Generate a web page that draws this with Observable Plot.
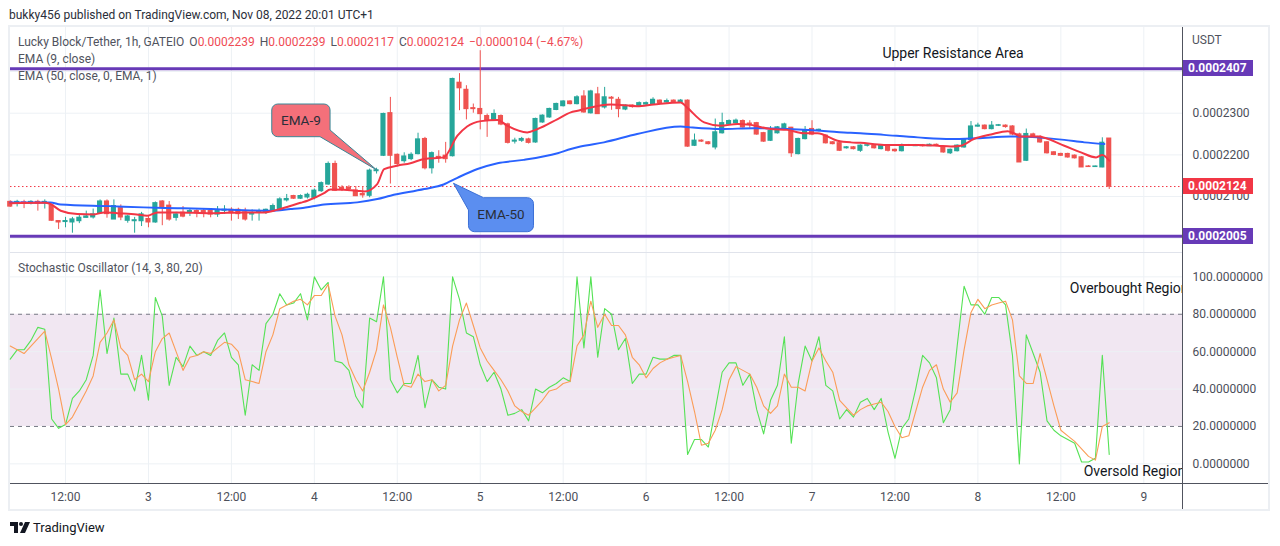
<!DOCTYPE html>
<html><head><meta charset="utf-8">
<script src="https://cdn.jsdelivr.net/npm/d3@7"></script>
<script src="https://cdn.jsdelivr.net/npm/@observablehq/plot@0.6"></script>
<style>
body{margin:0;background:#fff;}
#page{position:relative;width:1280px;height:546px;overflow:hidden;font-family:Roboto,"Noto Sans",sans-serif;}
.abs{position:absolute;white-space:nowrap;line-height:16px;font-size:12px;}
.leg{color:#50535e;}
.red{color:#ef4c55;}
.seg{margin-right:5px;}
.tag{position:absolute;left:1183px;width:70px;height:16px;line-height:16px;color:#fff;font-size:12px;font-weight:bold;padding-left:5px;box-sizing:border-box;font-family:Roboto,sans-serif;}
svg.overlay{position:absolute;pointer-events:none;overflow:visible;}
</style></head><body><div id="page"></div>
<script>
// ---------- data (prices are in units of 1e-7 USDT) ----------
const firstHour = 4;            // hours after 2022-11-02 00:00 of the first visible candle
const opens = [
2087,2084,2086,2084,2087,2084,2078,2041,2039,2038,
2041,2049,2050,2060,2088,2045,2072,2042,2041,2041,
2046,2038,2088,2078,2049,2061,2063,2065,2065,2065,
2057,2066,2068,2068,2062,2057,2061,2061,2066,2070,
2091,2101,2095,2098,2097,2113,2129,2178,2121,2121,
2114,2106,2102,2161,2198,2300,2200,2185,2190,2202,
2238,2168,2195,2198,2197,2373,2356,2312,2310,2293,
2282,2293,2273,2232,2234,2237,2230,2278,2290,2308,
2317,2328,2322,2340,2300,2345,2314,2337,2332,2309,
2318,2316,2321,2322,2330,2326,2330,2326,2330,2222,
2234,2230,2218,2252,2273,2276,2281,2275,2276,2252,
2234,2252,2263,2265,2202,2238,2262,2258,2246,2230,
2228,2216,2218,2210,2222,2221,2214,2222,2212,2209,
2223,2221,2223,2221,2224,2218,2204,2209,2218,2236,
2268,2270,2262,2270,2270,2268,2249,2186,2249,2243,
2230,2206,2202,2202,2198,2194,2172,2171,2170,2239];
const highs = [
2090,2091,2091,2090,2091,2092,2082,2042,2050,2050,
2055,2065,2070,2092,2092,2092,2080,2055,2050,2062,
2054,2087,2090,2088,2062,2076,2070,2068,2070,2070,
2076,2078,2073,2072,2072,2068,2070,2070,2082,2097,
2105,2103,2104,2108,2118,2135,2183,2185,2126,2126,
2124,2124,2166,2168,2300,2338,2202,2205,2205,2252,
2242,2207,2210,2230,2384,2395,2366,2322,2450,2298,
2308,2296,2276,2240,2242,2240,2288,2296,2312,2324,
2330,2330,2342,2354,2355,2362,2362,2340,2338,2320,
2320,2327,2327,2337,2332,2334,2332,2333,2332,2250,
2236,2232,2286,2300,2284,2286,2284,2282,2278,2254,
2268,2268,2276,2266,2240,2268,2282,2262,2248,2232,
2230,2220,2220,2224,2225,2225,2224,2224,2214,2226,
2225,2225,2225,2226,2226,2220,2214,2224,2238,2280,
2276,2272,2280,2273,2272,2270,2252,2262,2252,2246,
2232,2208,2204,2204,2200,2196,2174,2173,2241,2239];
const lows = [
2074,2075,2071,2080,2065,2070,2040,2021,2025,2012,
2035,2048,2046,2057,2048,2045,2042,2036,2012,2028,
2025,2036,2030,2041,2041,2049,2052,2049,2049,2049,
2050,2057,2041,2045,2041,2041,2041,2057,2064,2066,
2087,2093,2093,2094,2092,2110,2127,2112,2112,2112,
2100,2096,2097,2154,2196,2130,2172,2180,2186,2200,
2164,2154,2180,2180,2195,2306,2284,2300,2260,2242,
2280,2270,2226,2226,2230,2226,2228,2276,2288,2306,
2315,2320,2320,2300,2298,2298,2310,2307,2289,2306,
2312,2314,2318,2320,2322,2324,2324,2324,2218,2220,
2230,2224,2212,2250,2271,2274,2264,2262,2247,2230,
2232,2250,2261,2194,2200,2236,2246,2255,2226,2224,
2208,2214,2212,2206,2219,2214,2212,2207,2206,2207,
2220,2220,2219,2220,2220,2204,2201,2207,2216,2234,
2266,2260,2260,2268,2264,2246,2182,2184,2241,2228,
2202,2198,2196,2192,2190,2170,2170,2170,2169,2117];
const closes = [
2076,2087,2083,2087,2083,2087,2042,2038,2041,2045,
2049,2052,2057,2088,2058,2077,2050,2052,2043,2057,
2038,2084,2074,2045,2057,2052,2065,2060,2060,2057,
2065,2068,2061,2058,2045,2060,2063,2068,2077,2093,
2094,2095,2101,2104,2114,2132,2178,2114,2118,2118,
2101,2103,2162,2163,2298,2198,2178,2196,2200,2237,
2168,2204,2192,2190,2382,2360,2310,2310,2298,2282,
2298,2273,2229,2234,2238,2229,2286,2294,2310,2322,
2328,2322,2338,2302,2352,2298,2338,2335,2310,2318,
2315,2324,2324,2332,2324,2329,2326,2330,2220,2234,
2232,2226,2254,2276,2281,2282,2266,2273,2249,2232,
2257,2266,2273,2204,2238,2258,2249,2260,2228,2226,
2210,2218,2214,2222,2223,2216,2222,2210,2209,2220,
2222,2223,2221,2224,2222,2206,2212,2222,2236,2268,
2270,2262,2270,2271,2267,2249,2182,2250,2243,2230,
2204,2200,2198,2194,2192,2170,2171,2172,2229,2124];
// EMA lines: [hour, price]
const ema9Points = [[4,2084],[9,2085],[9.8,2082],[11.3,2066],[13.7,2058],[16.1,2057],[17.6,2062],[19.5,2060],[22.3,2057],[23.8,2054],[25.3,2062],[28.2,2062],[33,2060],[37.8,2062],[40.7,2062],[42.6,2068],[46,2085],[47,2090],[49.4,2108],[50.3,2117],[54.2,2114],[55.2,2112],[57.1,2130],[58.1,2166],[60,2174],[61.9,2180],[63.9,2190],[66.7,2194],[68.7,2246],[70.1,2268],[72.1,2281],[74.5,2284],[75.9,2270],[78.8,2254],[80.3,2262],[83.2,2286],[85.1,2302],[86.1,2306],[87,2310],[90.9,2321],[94.7,2317],[97.1,2321],[101,2326],[101.9,2314],[104.4,2278],[106.8,2270],[109.2,2274],[111.1,2272],[114,2262],[116.4,2260],[118.8,2252],[120.8,2252],[123.7,2234],[125.6,2230],[127,2229],[130.4,2224],[135.3,2224],[138.2,2222],[140.1,2220],[141.5,2222],[143.4,2238],[145.9,2249],[148.3,2257],[149.2,2252],[150.2,2244],[152.6,2244],[156.5,2222],[158.9,2206],[161.1,2194],[162,2200],[163,2186]];
const ema50Points = [[4,2086],[9.8,2086],[11.3,2081],[18.5,2077],[23.3,2074],[28.2,2072],[33,2070],[37.8,2067],[41.7,2066],[44.6,2070],[46,2072],[49.4,2081],[54.2,2086],[57.1,2094],[59,2102],[63.9,2118],[66.7,2129],[68.7,2145],[71.6,2166],[74.5,2180],[78.3,2188],[83.2,2204],[85.1,2214],[86.5,2220],[89.9,2230],[94.7,2250],[101,2268],[102.4,2266],[106.8,2262],[111.6,2264],[116.4,2262],[121.3,2258],[125.6,2253],[127,2252],[130.4,2248],[135.3,2242],[140.1,2238],[143.9,2240],[148.7,2244],[152.6,2242],[156.5,2236],[159.4,2230],[162.3,2226]];
// Stochastic %K and %D, one value per candle
const stochK = [
56,61,61,66,73,72,24,19,21,35, 39,45,58,93,59,78,48,48,39,58,
34,89,79,42,57,52,63,58,60,58, 66,70,57,53,26,53,50,75,80,91,
85,86,91,77,100,93,97,55,54,50, 36,30,78,76,100,45,38,43,43,58,
30,45,41,40,100,88,70,68,53,44, 49,40,26,27,29,23,40,38,41,43,
46,44,100,62,100,57,83,80,61,67, 43,48,48,57,56,56,58,58,5,13,
13,9,29,49,54,54,42,48,29,16, 34,42,68,11,43,63,55,68,42,39,
24,29,25,33,35,29,35,17,3,19, 24,40,58,54,46,22,29,63,95,85,
85,80,89,89,85,58,0,69,59,49, 23,18,15,13,11,1,1,3,58,5];
const stochD = [
63,61,59,63,67,71,56,40,21,25, 32,39,47,65,70,77,62,58,45,48,
44,60,67,70,60,50,57,58,60,59, 62,65,64,60,45,44,43,60,69,83,
85,87,88,85,90,90,96,79,69,53, 45,39,49,61,85,73,57,42,41,48,
44,45,39,42,63,77,86,74,62,55, 50,45,39,31,28,26,30,34,39,40,
43,44,63,69,87,73,80,74,74,69, 57,53,46,51,54,56,57,58,44,28,
10,11,18,29,45,52,50,48,41,31, 27,31,48,41,41,39,55,62,55,49,
34,30,26,29,31,32,33,28,20,14, 15,28,41,50,53,40,33,38,61,81,
88,83,85,86,87,77,47,43,43,59, 45,31,18,15,12,8,4,2,20,22];
// levels, ticks and labels
const resistanceLevels = [2407, 2005];
const lastPrice = 2124;
const priceGrid = [2000, 2100, 2200, 2300, 2400];
const priceTicks = [2100, 2200, 2300];
const stochTicks = [0, 20, 40, 60, 80, 100];
const stochGrid = [0, 40, 60, 100];
const stochBands = [20, 80];
const xTickHours = [12,24,36,48,60,72,84,96,108,120,132,144,156,168];
const xTickLabels = ["12:00","3","12:00","4","12:00","5","12:00","6","12:00","7","12:00","8","12:00","9"];
const viewHours = [4.04, 173.6];
const priceView = [1965.7, 2505.7];
const stochView = [-10.5, 112.5];
const annotations = {resistance:{hour:140.4, price:2443, text:"Upper Resistance Area"},
  overbought:{hour:157.3, value:93.7, text:"Overbought Region"},
  oversold:{hour:159.3, value:-4.1, text:"Oversold Region"},
  ema9:{hour:57.1, price:2162.5, text:"EMA-9"}, ema50:{hour:68.2, price:2130.6, text:"EMA-50"}};
const legendOHLC = [["O","0.0002239"],["H","0.0002239"],["L","0.0002117"],["C","0.0002124"]];
const legendChange = "\u22120.0000104 (\u22124.67%)";

// ---------- helpers ----------
const HOUR = 3600e3, BASE = Date.UTC(2022, 10, 2);
const hd = h => new Date(BASE + h * HOUR);
const fmtPrice = p => (p / 1e7).toFixed(7);
const UP = "#26a69a", DOWN = "#ef5350", GRID = "#edf1f5";
const FONT = 'Roboto, "Noto Sans", sans-serif';
const candles = opens.map((o, k) => ({date: hd(firstHour + k), open: o, high: highs[k], low: lows[k], close: closes[k]}));
const stoch = stochK.map((k, j) => ({date: hd(firstHour + j), k, d: stochD[j]}));
const xDomain = viewHours.map(hd);
const page = document.getElementById("page");

function abs(html, left, top, cls, extra) {
  const d = document.createElement("div");
  d.className = "abs " + (cls || "");
  d.style.left = left + "px"; d.style.top = top + "px";
  if (extra) Object.assign(d.style, extra);
  d.innerHTML = html; page.appendChild(d); return d;
}
function line(left, top, w, h, color) {
  const d = document.createElement("div");
  Object.assign(d.style, {position:"absolute", left:left+"px", top:top+"px", width:w+"px", height:h+"px", background:color});
  page.appendChild(d);
}

// frame
const frame = document.createElement("div");
Object.assign(frame.style, {position:"absolute", left:"8px", top:"25px", width:"1262px", height:"486px", border:"2px solid #eceff3", boxSizing:"border-box"});
page.appendChild(frame);

// ---------- price pane ----------
const p1 = Plot.plot({
  width: 1258, height: 225, marginLeft: 0, marginRight: 86, marginTop: 0, marginBottom: 0,
  style: {fontFamily: FONT, fontSize: "12px", color: "#4c4f5a", background: "transparent", overflow: "visible"},
  x: {type: "utc", domain: xDomain, axis: null},
  y: {domain: priceView, axis: "right", ticks: priceTicks, tickFormat: fmtPrice, tickSize: 0, tickPadding: 10, label: null},
  marks: [
    Plot.ruleX(xTickHours.map(hd), {stroke: GRID}),
    Plot.ruleY(priceGrid, {stroke: GRID}),
    Plot.ruleY(resistanceLevels, {stroke: "#673ab7", strokeWidth: 3}),
    Plot.ruleY([lastPrice], {stroke: "#f23645", strokeDasharray: "1.5,2.5"}),
    Plot.ruleX(candles, {x: "date", y1: "low", y2: "high", stroke: d => d.close >= d.open ? UP : DOWN}),
    Plot.rect(candles, {x1: d => new Date(+d.date - 0.37 * HOUR), x2: d => new Date(+d.date + 0.37 * HOUR),
      y1: "open", y2: "close", fill: d => d.close >= d.open ? UP : DOWN, insetTop: -0.6, insetBottom: -0.6}),
    Plot.line(ema50Points, {x: d => hd(d[0]), y: d => d[1], stroke: "#2962ff", strokeWidth: 2, curve: "monotone-x"}),
    Plot.line(ema9Points, {x: d => hd(d[0]), y: d => d[1], stroke: "#f23645", strokeWidth: 2, curve: "monotone-x"}),
    Plot.text([annotations.resistance], {x: d => hd(d.hour), y: "price", text: "text", fontSize: 14, fill: "#131722"})
  ]
});
Object.assign(p1.style, {position: "absolute", left: "10px", top: "27px"});
page.appendChild(p1);

// ---------- stochastic pane ----------
const tickLabelMap = new Map(xTickHours.map((h, i) => [+hd(h), xTickLabels[i]]));
const p2 = Plot.plot({
  width: 1258, height: 255, marginLeft: 0, marginRight: 86, marginTop: 0, marginBottom: 25,
  style: {fontFamily: FONT, fontSize: "12px", color: "#4c4f5a", background: "transparent", overflow: "visible"},
  x: {type: "utc", domain: xDomain, ticks: xTickHours.map(hd), tickFormat: d => tickLabelMap.get(+d), tickSize: 0, tickPadding: 9, label: null},
  y: {domain: stochView, axis: "right", ticks: stochTicks, tickFormat: v => v.toFixed(7), tickSize: 0, tickPadding: 10, label: null},
  marks: [
    Plot.ruleX(xTickHours.map(hd), {stroke: GRID}),
    Plot.rect([stochBands], {x1: () => xDomain[0], x2: () => xDomain[1], y1: d => d[0], y2: d => d[1], fill: "#f1e7f2"}),
    Plot.ruleY(stochGrid, {stroke: GRID}),
    Plot.ruleY(stochBands, {stroke: "#787b86", strokeDasharray: "4,4"}),
    Plot.line(stoch, {x: "date", y: "k", stroke: "#55e255", strokeWidth: 1.1}),
    Plot.line(stoch, {x: "date", y: "d", stroke: "#fb9c57", strokeWidth: 1.1}),
    Plot.text([annotations.overbought, annotations.oversold], {x: d => hd(d.hour), y: "value", text: "text", textAnchor: "start", fontSize: 14, fill: "#131722", clip: true})
  ]
});
Object.assign(p2.style, {position: "absolute", left: "10px", top: "253px"});
page.appendChild(p2);

// pane separators and axis lines
line(10, 252, 1172, 1, "#e0e3eb");
line(1182, 27, 1, 482, "#50535e");
line(10, 483, 1258, 1, "#50535e");

// ---------- price tags on the axis ----------
const y1s = p1.scale("y");
function tag(value, color) {
  const d = document.createElement("div");
  d.className = "tag"; d.style.background = color;
  d.style.top = (27 + y1s.apply(value) - 8) + "px";
  d.textContent = fmtPrice(value); page.appendChild(d);
}
resistanceLevels.forEach(v => tag(v, "#673ab7"));
tag(lastPrice, "#f23645");
abs("USDT", 1192, 32, "leg");

// ---------- callouts ----------
const x1s = p1.scale("x");
const NS = "http://www.w3.org/2000/svg";
const ov = document.createElementNS(NS, "svg");
ov.setAttribute("class", "overlay"); ov.setAttribute("width", 1258); ov.setAttribute("height", 225);
ov.style.left = "10px"; ov.style.top = "27px";
page.appendChild(ov);
function callout(pathD, fill, stroke, text, cx, cy) {
  const p = document.createElementNS(NS, "path");
  p.setAttribute("d", pathD); p.setAttribute("fill", fill); p.setAttribute("stroke", stroke); p.setAttribute("stroke-width", 1);
  ov.appendChild(p);
  const t = document.createElementNS(NS, "text");
  t.setAttribute("x", cx); t.setAttribute("y", cy); t.setAttribute("text-anchor", "middle"); t.setAttribute("dy", "0.35em");
  t.setAttribute("font-family", FONT); t.setAttribute("font-size", 13.5); t.setAttribute("fill", "#2a2e39");
  t.textContent = text; ov.appendChild(t);
}
{
  const a = annotations.ema9, tx = x1s.apply(hd(a.hour)), ty = y1s.apply(a.price), r = 6;
  const L = tx - 105, R = tx - 46.7, T = ty - 66, B = ty - 33.3;
  const d = `M${L+r},${T}H${R-r}A${r},${r} 0 0 1 ${R},${T+r}V${ty-40}L${tx},${ty}L${tx-56.7},${B}H${L+r}A${r},${r} 0 0 1 ${L},${B-r}V${T+r}A${r},${r} 0 0 1 ${L+r},${T}Z`;
  callout(d, "#f4707a", "#3a8796", a.text, (L + R) / 2, (T + B) / 2);
}
{
  const a = annotations.ema50, tx = x1s.apply(hd(a.hour)), ty = y1s.apply(a.price), r = 6;
  const L = tx + 15, R = tx + 80, T = ty + 14.4, B = ty + 48.4;
  const d = `M${tx+30},${T}H${R-r}A${r},${r} 0 0 1 ${R},${T+r}V${B-r}A${r},${r} 0 0 1 ${R-r},${B}H${L+r}A${r},${r} 0 0 1 ${L},${B-r}V${ty+26.7}L${tx},${ty}Z`;
  callout(d, "#5b8ef0", "#3b6fd6", a.text, (L + R) / 2, (T + B) / 2);
}

// ---------- texts ----------
abs("bukky456 published on TradingView.com, Nov 08, 2022 20:01 UTC+1", 9, 7, "", {color: "#2a2e39"});
abs('<span class="seg">Lucky Block/Tether, 1h, GATEIO</span>' +
    legendOHLC.map(([k, v]) => `<span class="seg">${k}<span class="red">${v}</span></span>`).join("") +
    `<span class="red">${legendChange}</span>`, 18, 34, "leg");
abs("EMA (9, close)", 18, 51, "leg");
abs("EMA (50, close, 0, EMA, 1)", 18, 68, "leg");
abs("Stochastic Oscillator (14, 3, 80, 20)", 18, 260, "leg");

// logo
abs('<svg width="20" height="11" viewBox="0 0 20 11" style="vertical-align:-1px"><path d="M0 0H8V11H4V4H0Z" fill="#131722"/><circle cx="11" cy="2" r="2" fill="#131722"/><path d="M15 0H20L15 11H10Z" fill="#131722"/></svg> <span style="font-size:13px;color:#131722">TradingView</span>', 10, 520, "");
</script></body></html>
